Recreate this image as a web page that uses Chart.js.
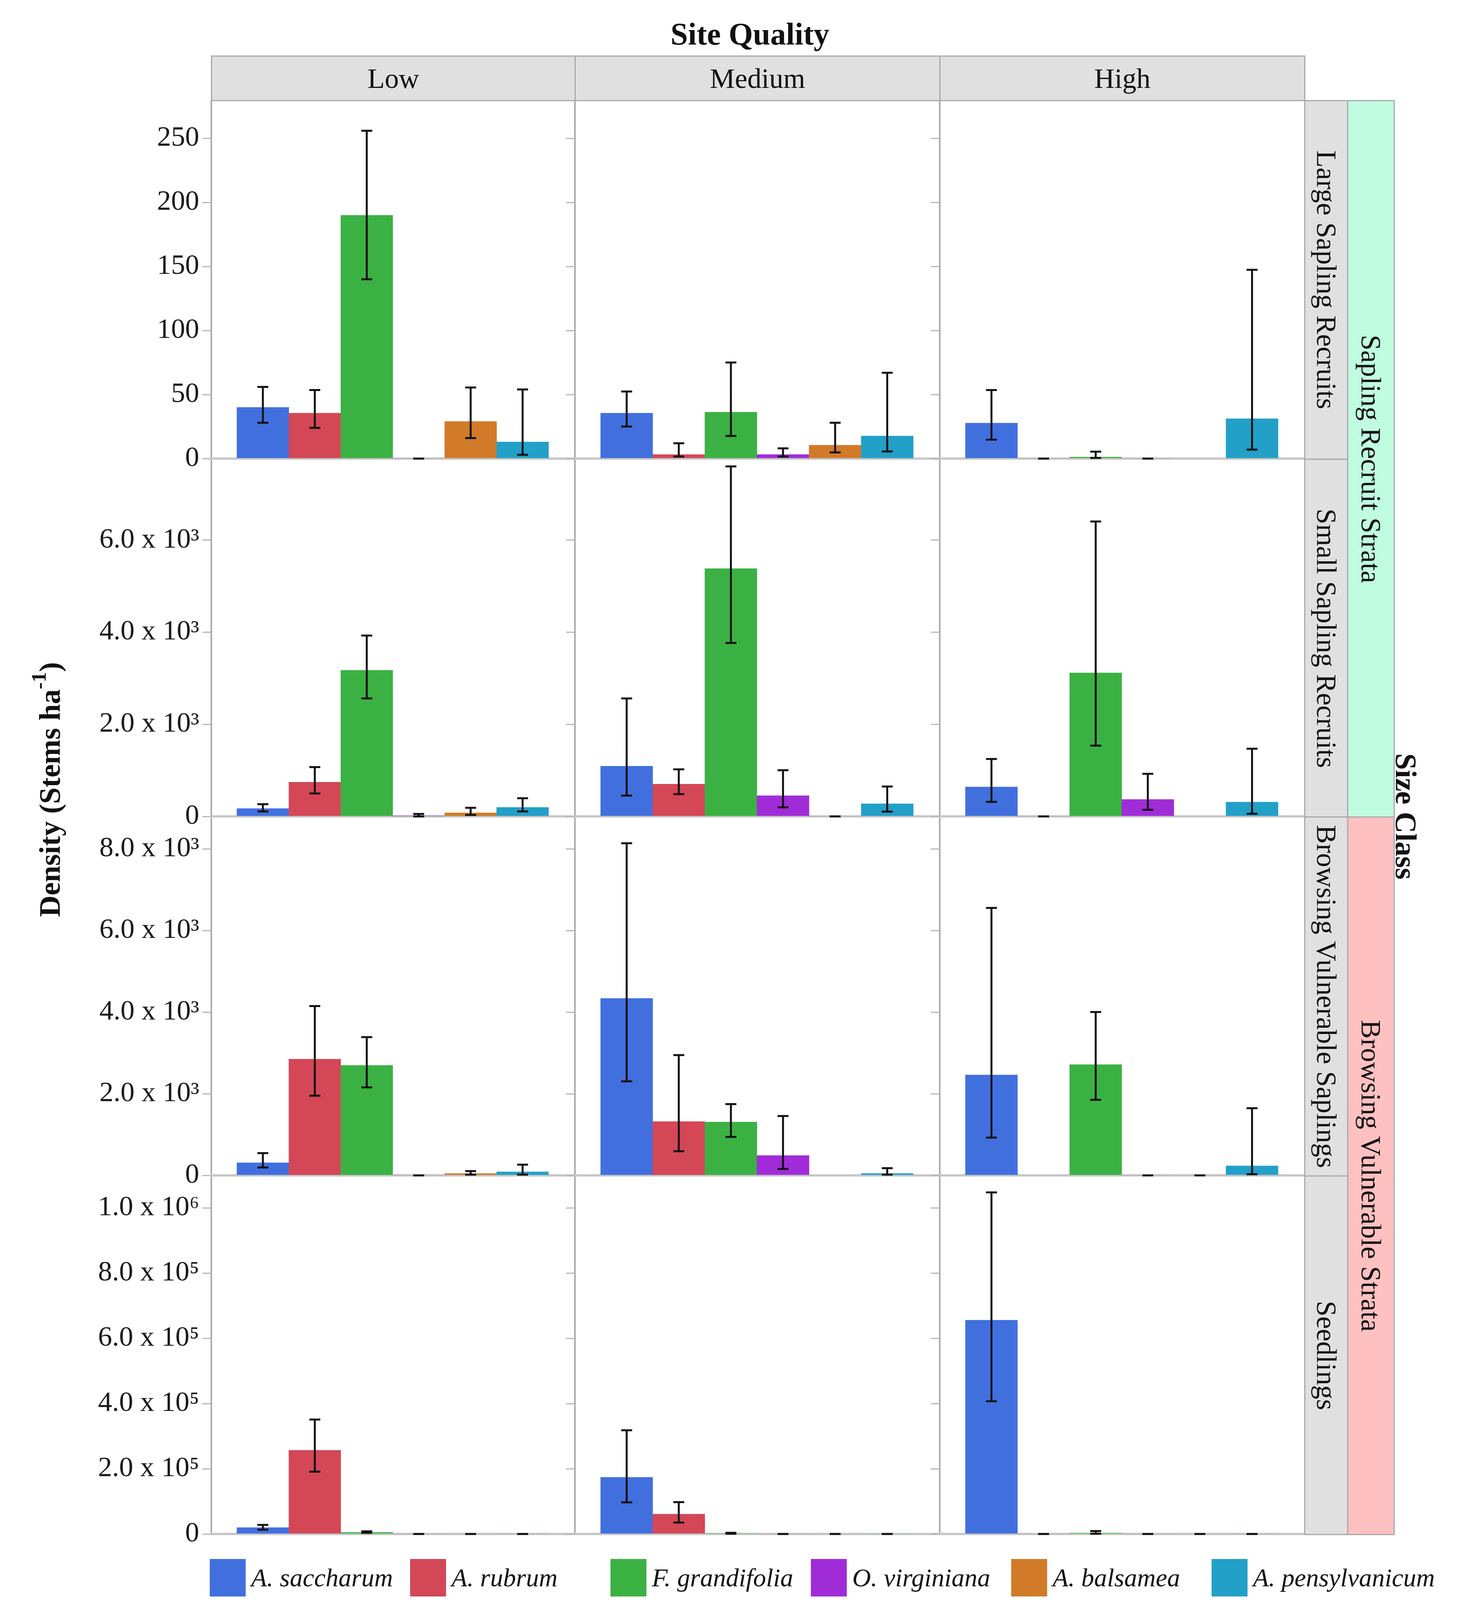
<!DOCTYPE html>
<html lang="en">
<head>
<meta charset="UTF-8">
<title>Density by Site Quality and Size Class</title>
<script src="https://cdn.jsdelivr.net/npm/chart.js"></script>
<style>
  body { margin: 0; background: #fff; }
  #fig {
    position: relative; width: 3738px; height: 4158px; overflow: hidden;
    font-family: 'Liberation Serif', 'Times New Roman', serif; color: #111; background: #fff;
  }
  #fig canvas { position: absolute; }
  .strip {
    position: absolute; box-sizing: border-box; background: #e0e0e0;
    border: 3px solid #a9a9a9; display: flex; align-items: center; justify-content: center;
    font-size: 72px; line-height: 1;
  }
  .vert { writing-mode: vertical-rl; }
  .vline { position: absolute; width: 4px; background: #a9a9a9; }
  .title { position: absolute; font-weight: bold; font-size: 80px; line-height: 1; white-space: nowrap; }
  #legend { position: absolute; left: 537px; top: 3991px; display: grid; grid-template-columns: repeat(6, 513px); }
  .item { display: flex; align-items: center; font-style: italic; font-size: 66px; white-space: nowrap; }
  .swatch { width: 92px; height: 96px; margin-right: 14px; flex: none; }
</style>
</head>
<body>
<div id="fig"></div>
<script>
// species and panel labels
const species = ['A. saccharum', 'A. rubrum', 'F. grandifolia', 'O. virginiana', 'A. balsamea', 'A. pensylvanicum'];
const colors = ['#4170de', '#d44757', '#3bb143', '#a02cd8', '#d17a28', '#22a0c8'];
const siteQuality = ['Low', 'Medium', 'High'];
const sizeClasses = ['Large Sapling Recruits', 'Small Sapling Recruits', 'Browsing Vulnerable Saplings', 'Seedlings'];
const strata = ['Sapling Recruit Strata', 'Browsing Vulnerable Strata'];

// mean density per site quality (Low, Medium, High), null = no bar
const largeMeans = [[40, 35.5, 190, 0, 29, 13], [35.5, 3.2, 36.3, 3.2, 10.5, 17.7], [27.7, 0, 1.2, 0, null, 31.2]];
const largeLower = [[28, 24, 140, 0, 16, 3], [25, 1.6, 17.7, 1.6, 4.8, 5.6], [14.8, 0, 0.5, 0, null, 7]];
const largeUpper = [[56, 53.5, 256, 0, 55.5, 54], [52.4, 12, 75, 8, 28, 67], [53.5, 0, 5.4, 0, null, 147.4]];

const smallMeans = [[171, 743, 3174, 10, 78, 197], [1091, 701, 5382, 452, 0, 275], [639, 0, 3117, 369, null, 312]];
const smallLower = [[109, 499, 2561, 0, 31, 109], [452, 483, 3766, 197, 0, 104], [317, 0, 1538, 145, null, 57]];
const smallUpper = [[265, 1070, 3927, 52, 187, 395], [2561, 1023, 7600, 1003, 0, 649], [1247, 0, 6405, 925, null, 1470]];

const browseMeans = [[311, 2850, 2698, 0, 47, 88], [4340, 1320, 1308, 487, null, 47], [2463, null, 2716, 0, 0, 235]];
const browseLower = [[194, 1953, 2158, 0, 18, 18], [2305, 592, 944, 158, null, 18], [927, null, 1853, 0, 0, 29]];
const browseUpper = [[545, 4152, 3390, 0, 106, 264], [8141, 2950, 1748, 1455, null, 176], [6557, null, 4006, 0, 0, 1648]];

const seedMeans = [[19800, 257000, 5100, 0, 0, 0], [174000, 61000, 2000, 0, 0, 0], [656000, 0, 3000, 0, 0, 0]];
const seedLower = [[13200, 191000, 3700, 0, 0, 0], [97000, 35000, 1000, 0, 0, 0], [407000, 0, 1000, 0, 0, 0]];
const seedUpper = [[27900, 351000, 8000, 0, 0, 0], [318000, 97600, 3500, 0, 0, 0], [1048000, 0, 9000, 0, 0, 0]];

// y axis per size class
const rowMax = [280, 7770, 8800, 1100000];
const largeTicks = [0, 50, 100, 150, 200, 250];
const largeTickLabels = ['0', '50', '100', '150', '200', '250'];
const smallTicks = [0, 2000, 4000, 6000];
const smallTickLabels = ['0', '2.0 x 10³', '4.0 x 10³', '6.0 x 10³'];
const browseTicks = [0, 2000, 4000, 6000, 8000];
const browseTickLabels = ['0', '2.0 x 10³', '4.0 x 10³', '6.0 x 10³', '8.0 x 10³'];
const seedTicks = [0, 200000, 400000, 600000, 800000, 1000000];
const seedTickLabels = ['0', '2.0 x 10⁵', '4.0 x 10⁵', '6.0 x 10⁵', '8.0 x 10⁵', '1.0 x 10⁶'];

const rowMeans = [largeMeans, smallMeans, browseMeans, seedMeans];
const rowLower = [largeLower, smallLower, browseLower, seedLower];
const rowUpper = [largeUpper, smallUpper, browseUpper, seedUpper];
const rowTicks = [largeTicks, smallTicks, browseTicks, seedTicks];
const rowTickLabels = [largeTickLabels, smallTickLabels, browseTickLabels, seedTickLabels];

// page geometry
const colX = [540, 1471, 2405, 3339];
const rowY = [256, 1174, 2090, 3009, 3927];
const fig = document.getElementById('fig');

function addDiv(cls, css, html) {
  const d = document.createElement('div');
  d.className = cls;
  Object.assign(d.style, css);
  if (html !== undefined) d.innerHTML = html;
  fig.appendChild(d);
  return d;
}

// titles
addDiv('title', { left: '1920px', top: '87px', transform: 'translate(-50%, -50%)' }, 'Site Quality');
addDiv('title vert', { left: '119px', top: '2021px', fontSize: '76px', transform: 'translate(-50%, -50%) rotate(180deg)' },
  'Density (Stems ha<sup style="font-size:0.7em">-1</sup>)');
addDiv('title vert', { left: '3600px', top: '2090px', fontSize: '76px', transform: 'translate(-50%, -50%)' }, 'Size Class');

// column strips
siteQuality.forEach((q, c) => {
  addDiv('strip', { left: colX[c] + 'px', top: '142px', width: (colX[c + 1] - colX[c] + 3) + 'px', height: '117px' }, q);
});
// row strips
sizeClasses.forEach((s, r) => {
  addDiv('strip', { left: '3339px', top: rowY[r] + 'px', width: '113px', height: (rowY[r + 1] - rowY[r] + 3) + 'px' },
    '<span class="vert">' + s + '</span>');
});
// strata strips
addDiv('strip', { left: '3449px', top: rowY[0] + 'px', width: '122px', height: (rowY[2] - rowY[0] + 3) + 'px', background: '#bffce0' },
  '<span class="vert">' + strata[0] + '</span>');
addDiv('strip', { left: '3449px', top: rowY[2] + 'px', width: '122px', height: (rowY[4] - rowY[2] + 3) + 'px', background: '#ffc0c0' },
  '<span class="vert">' + strata[1] + '</span>');

// panel dividers
colX.slice(0, 3).forEach(x => {
  addDiv('vline', { left: (x - 1) + 'px', top: rowY[0] + 'px', height: (rowY[4] - rowY[0] + 3) + 'px' });
});

const baseline = {
  id: 'baseline',
  beforeDatasetsDraw(chart) {
    const { ctx, chartArea, scales: { y } } = chart;
    const py = y.getPixelForValue(0);
    ctx.save();
    ctx.strokeStyle = '#c8c8c8';
    ctx.lineWidth = 6;
    ctx.beginPath();
    ctx.moveTo(chartArea.left, py);
    ctx.lineTo(chartArea.right, py);
    ctx.stroke();
    ctx.restore();
  }
};

const errorBars = {
  id: 'errorBars',
  afterDatasetsDraw(chart) {
    const { ctx, scales: { x, y } } = chart;
    const ds = chart.data.datasets[0];
    ctx.save();
    ctx.strokeStyle = '#111';
    ctx.lineWidth = 5;
    ds.means.forEach((m, i) => {
      if (m === null) return;
      const px = x.getPixelForValue(i + 1);
      const top = y.getPixelForValue(ds.upper[i]);
      const bot = y.getPixelForValue(ds.lower[i]);
      ctx.beginPath();
      ctx.moveTo(px, top); ctx.lineTo(px, bot);
      ctx.moveTo(px - 14, top); ctx.lineTo(px + 14, top);
      ctx.moveTo(px - 14, bot); ctx.lineTo(px + 14, bot);
      ctx.stroke();
    });
    ctx.restore();
  }
};

function makePanel(r, c) {
  const aw = c === 0 ? 340 : 22;
  const pad = 60;
  const w = colX[c + 1] - colX[c] + aw;
  const h = rowY[r + 1] - rowY[r] + 2 * pad;
  const canvas = document.createElement('canvas');
  canvas.width = w; canvas.height = h;
  Object.assign(canvas.style, { left: (colX[c] - aw) + 'px', top: (rowY[r] - pad) + 'px', width: w + 'px', height: h + 'px' });
  fig.appendChild(canvas);

  const means = rowMeans[r][c];
  new Chart(canvas, {
    type: 'bar',
    data: {
      datasets: [{
        data: means.map((v, i) => ({ x: i + 1, y: v })),
        means: means,
        lower: rowLower[r][c],
        upper: rowUpper[r][c],
        backgroundColor: colors,
        borderWidth: 0,
        barPercentage: 1,
        categoryPercentage: 1
      }]
    },
    options: {
      responsive: false,
      animation: false,
      devicePixelRatio: 1,
      layout: { padding: { top: pad, bottom: pad, left: 0, right: 0 } },
      plugins: { legend: { display: false }, tooltip: { enabled: false } },
      scales: {
        x: { type: 'linear', min: 0, max: 7, offset: false, display: false },
        y: {
          min: 0,
          max: rowMax[r],
          afterBuildTicks: s => { s.ticks = rowTicks[r].map(v => ({ value: v })); },
          afterFit: s => { s.width = aw; s.paddingTop = 0; s.paddingBottom = 0; },
          border: { display: false },
          grid: { drawOnChartArea: false, drawTicks: true, tickLength: 22, color: '#b8b8b8', lineWidth: 3 },
          ticks: {
            display: c === 0,
            autoSkip: false,
            padding: 8,
            color: '#1a1a1a',
            font: { family: 'Liberation Serif', size: 72 },
            callback: v => rowTickLabels[r][rowTicks[r].indexOf(v)]
          }
        }
      }
    },
    plugins: [baseline, errorBars]
  });
}

for (let r = 0; r < 4; r++) {
  for (let c = 0; c < 3; c++) makePanel(r, c);
}

// legend
const legend = addDiv('', {});
legend.id = 'legend';
species.forEach((s, i) => {
  const it = document.createElement('div');
  it.className = 'item';
  it.innerHTML = '<div class="swatch" style="background:' + colors[i] + '"></div>' + s;
  legend.appendChild(it);
});
</script>
</body>
</html>
